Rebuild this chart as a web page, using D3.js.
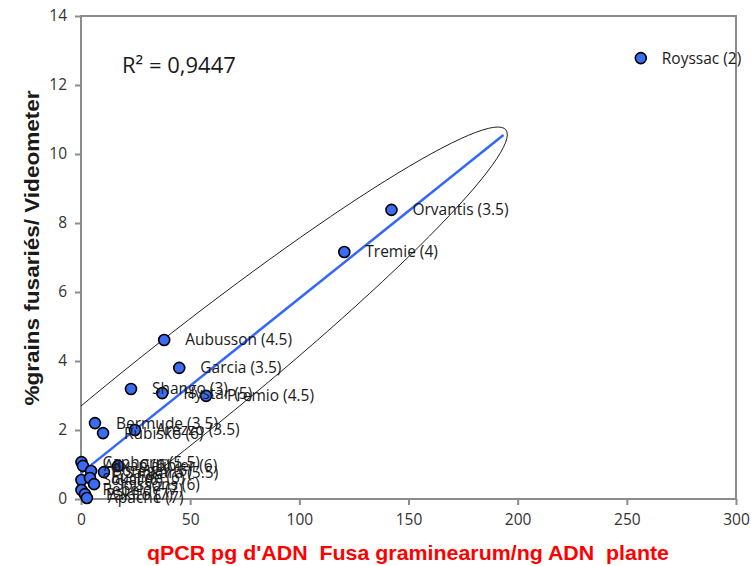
<!DOCTYPE html>
<html>
<head>
<meta charset="utf-8">
<script src="https://cdn.jsdelivr.net/npm/d3@7"></script>
<style>
  body { margin: 0; background: #fff; }
  svg { display: block; }
</style>
</head>
<body>
<svg id="chart"></svg>
<script>
// varieties (label shown next to each point)
const labels = [
  "Royssac (2)", "Orvantis (3.5)", "Tremie (4)", "Aubusson (4.5)", "Garcia (3.5)",
  "Shango (3)", "Hystar (5)", "Premio (4.5)", "Bermude (3.5)", "Rubisko (6)", "Arezzo (3.5)",
  "Caphorn (5.5)", "Alixan (6)", "Boregar (6)", "Sokal (6)", "Euclide (6)", "Soissons (6)",
  "Rebelde (7)", "Pakito (7)", "Apache (7)", "Sankara (5.5)", "Galibier (6)"
];
// qPCR pg ADN F. graminearum / ng ADN plante
const qpcr = [
  256.4, 142.2, 120.6, 38.1, 45.0,
  22.9, 37.2, 57.3, 6.4, 10.1, 24.7,
  0.2, 0.9, 4.6, 0.2, 4.1, 6.0,
  0.2, 1.8, 2.7, 10.5, 17.0
];
// % grains fusariés (Videometer)
const grains = [
  12.78, 8.38, 7.16, 4.61, 3.80,
  3.19, 3.07, 2.99, 2.20, 1.91, 2.00,
  1.07, 0.96, 0.81, 0.55, 0.61, 0.43,
  0.26, 0.14, 0.03, 0.78, 0.96
];

const xTicks = [0, 50, 100, 150, 200, 250, 300];
const yTicks = [0, 2, 4, 6, 8, 10, 12, 14];

// linear trendline as drawn
const trendX = [0, 193.5];
const trendY = [0.75, 10.55];

// hand-drawn ellipse: centre and upper tip, in data units
const ellipseCentre = [40.6, 2.92];
const ellipseTip = [194.6, 10.7];

const W = 751, H = 566;
const margin = { top: 16, right: 15, bottom: 67, left: 81 };
const width = W - margin.left - margin.right;
const height = H - margin.top - margin.bottom;

const svg = d3.select("#chart").attr("width", W).attr("height", H);
const g = svg.append("g").attr("transform", `translate(${margin.left},${margin.top})`);

const x = d3.scaleLinear().domain([0, 300]).range([0, width]);
const y = d3.scaleLinear().domain([0, 14]).range([height, 0]);

const axisColor = "#8c8c8c";
const tickFont = "'Open Sans', sans-serif";

g.append("defs").append("clipPath").attr("id", "plot-clip")
  .append("rect").attr("width", width).attr("height", height);

// frame
g.append("rect")
  .attr("width", width).attr("height", height)
  .attr("fill", "none").attr("stroke", axisColor).attr("stroke-width", 2);

const xAxis = g.append("g")
  .attr("transform", `translate(0,${height})`)
  .call(d3.axisBottom(x).tickValues(xTicks).tickSize(6).tickPadding(9));
const yAxis = g.append("g")
  .call(d3.axisLeft(y).tickValues(yTicks).tickSize(6).tickPadding(8));

[xAxis, yAxis].forEach(a => {
  a.select(".domain").remove();
  a.selectAll(".tick line").attr("stroke", axisColor).attr("stroke-width", 2);
  a.selectAll(".tick text")
    .attr("fill", "#333")
    .style("font-family", tickFont)
    .style("font-size", "15.5px");
});

// ellipse
const c = [x(ellipseCentre[0]), y(ellipseCentre[1])];
const t = [x(ellipseTip[0]), y(ellipseTip[1])];
const semiMajor = Math.hypot(t[0] - c[0], t[1] - c[1]);
const angle = Math.atan2(t[1] - c[1], t[0] - c[0]) * 180 / Math.PI;
g.append("g").attr("clip-path", "url(#plot-clip)")
  .append("ellipse")
  .attr("cx", 0).attr("cy", 0)
  .attr("rx", semiMajor).attr("ry", 50)
  .attr("transform", `translate(${c[0]},${c[1]}) rotate(${angle})`)
  .attr("fill", "none").attr("stroke", "#000").attr("stroke-width", 0.8);

// trendline
g.append("line")
  .attr("x1", x(trendX[0])).attr("y1", y(trendY[0]))
  .attr("x2", x(trendX[1])).attr("y2", y(trendY[1]))
  .attr("stroke", "#3366ff").attr("stroke-width", 2.5);

const data = labels.map((d, i) => ({ name: d, qx: qpcr[i], gy: grains[i] }));

g.selectAll(".dot")
  .data(data)
  .enter()
  .append("circle")
  .attr("class", "dot")
  .attr("cx", d => x(d.qx))
  .attr("cy", d => y(d.gy))
  .attr("r", 5.5)
  .attr("fill", "#3a6cf4")
  .attr("stroke", "#000")
  .attr("stroke-width", 1.6);

g.selectAll(".lbl")
  .data(data)
  .enter()
  .append("text")
  .attr("class", "lbl")
  .attr("x", d => x(d.qx) + 21)
  .attr("y", d => y(d.gy))
  .attr("dy", "0.35em")
  .attr("fill", "#1a1a1a")
  .style("font-family", tickFont)
  .style("font-size", "15.5px")
  .text(d => d.name);

// R² annotation
g.append("text")
  .attr("x", 41).attr("y", 57)
  .attr("fill", "#1a1a1a")
  .style("font-family", tickFont)
  .style("font-size", "22px")
  .text("R² = 0,9447");

// axis titles
svg.append("text")
  .attr("transform", "translate(39,248) rotate(-90)")
  .attr("text-anchor", "middle")
  .attr("fill", "#1a1a1a")
  .attr("textLength", 315)
  .attr("lengthAdjust", "spacingAndGlyphs")
  .style("font-family", "'Liberation Sans', Arial, sans-serif")
  .style("font-weight", "bold")
  .style("font-size", "20px")
  .text("%grains fusariés/ Videometer");

svg.append("text")
  .attr("x", 408)
  .attr("y", 560)
  .attr("text-anchor", "middle")
  .attr("fill", "#ff0000")
  .attr("textLength", 522)
  .attr("lengthAdjust", "spacingAndGlyphs")
  .style("font-family", "'Liberation Sans', Arial, sans-serif")
  .style("font-weight", "bold")
  .style("font-size", "20px")
  .style("white-space", "pre")
  .text("qPCR pg d'ADN  Fusa graminearum/ng ADN  plante");
</script>
</body>
</html>
